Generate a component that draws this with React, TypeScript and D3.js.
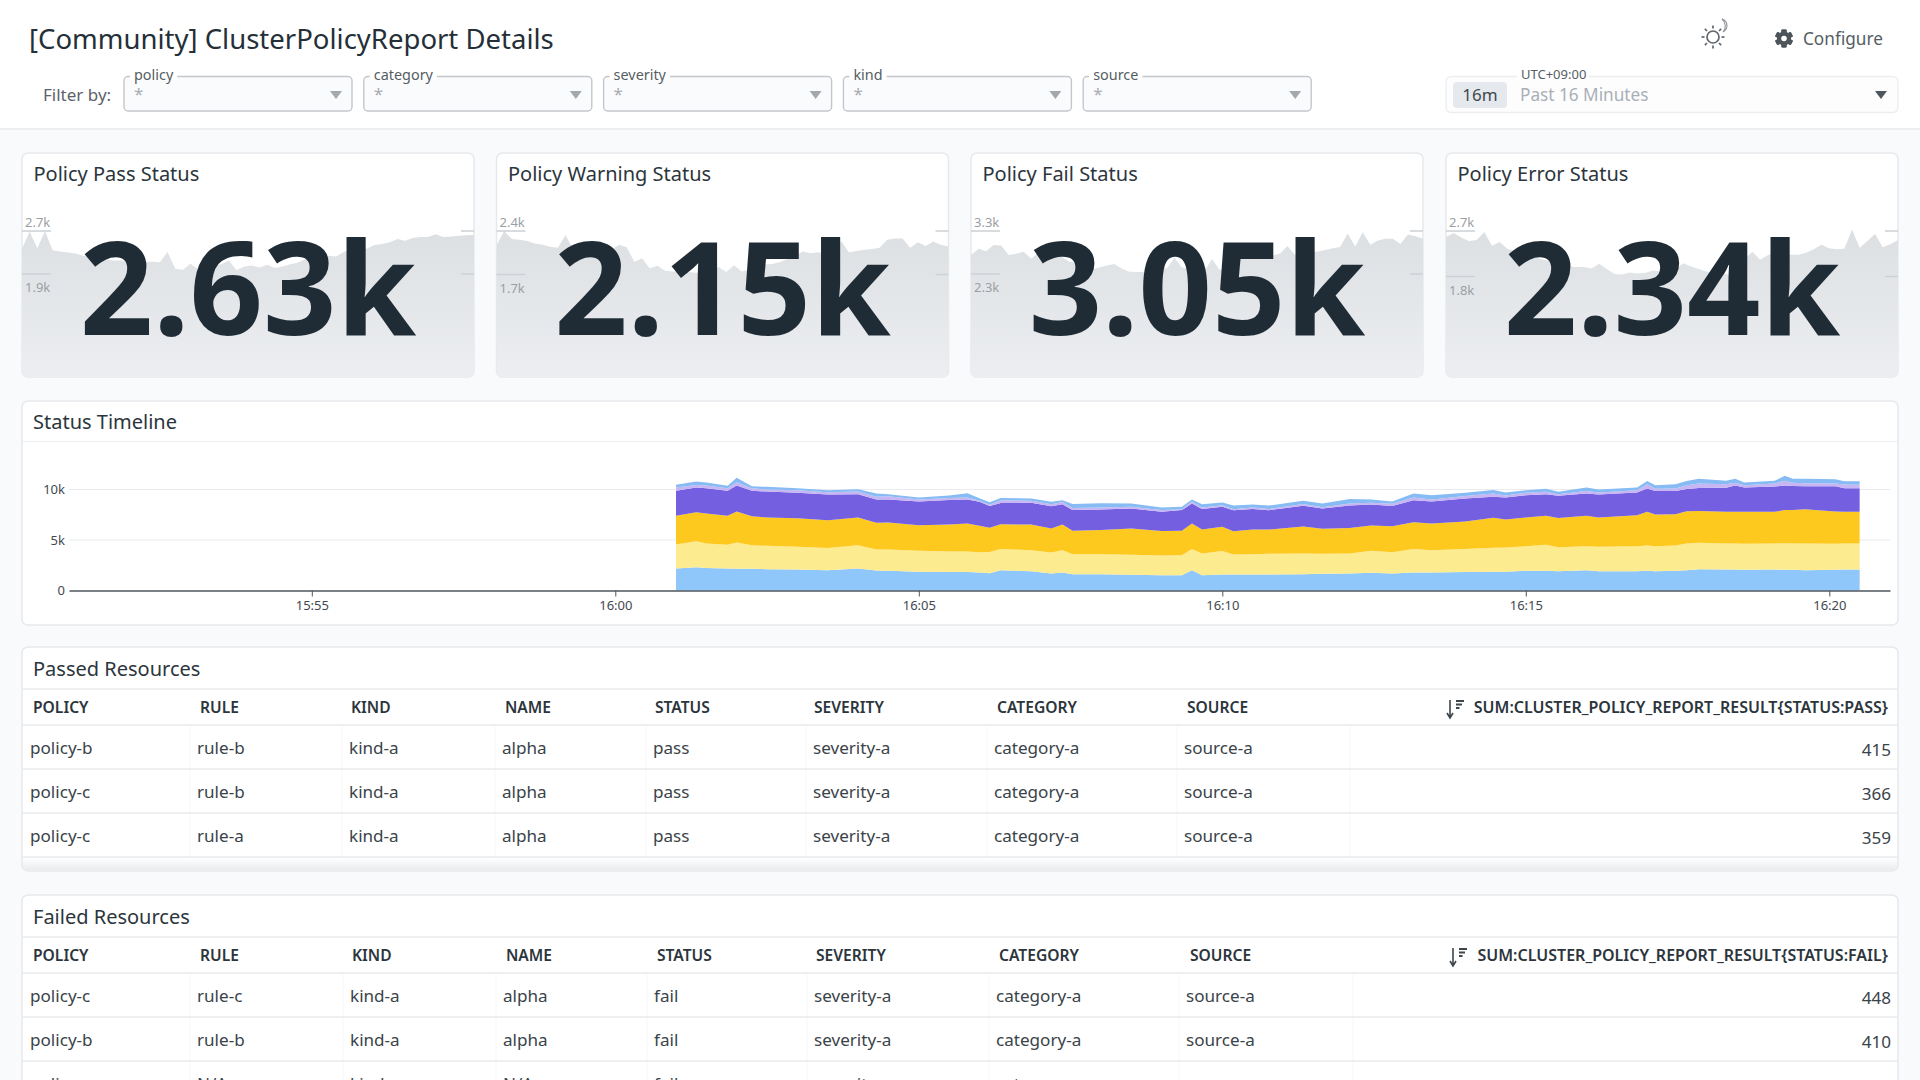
import React, { useRef, useEffect } from "react";
import * as d3 from "d3";

const FONT = '"Noto Sans", sans-serif';

// filter bar
const filterNames = ["policy", "category", "severity", "kind", "source"];

// stat cards
const cardTitles = ["Policy Pass Status", "Policy Warning Status", "Policy Fail Status", "Policy Error Status"];
const cardValues = ["2.63k", "2.15k", "3.05k", "2.34k"];
const cardHighLabels = ["2.7k", "2.4k", "3.3k", "2.7k"];
const cardLowLabels = ["1.9k", "1.7k", "2.3k", "1.8k"];
const cardHighValues = [2700, 2400, 3300, 2700];
const cardLowValues = [1900, 1700, 2300, 1800];

const passSpark = [
  2370, 2690, 2380, 2700, 2340, 2320, 2300, 2280, 2240, 2210, 2190, 2170, 2150, 2150, 2140, 2140, 2130, 2130, 2120,
  2310, 2000, 1980, 2090, 1990, 2040, 2060, 2080, 2150, 1970, 2040, 2060, 2020, 2070, 2010, 2040, 2080, 2110, 2180,
  2210, 2220, 2240, 2225, 2310, 2360, 2420, 2370, 2440, 2460, 2490, 2550, 2520, 2570, 2590, 2590, 2640, 2590, 2600,
  2610, 2620, 2625,
];
const warnSpark = [
  2170, 2400, 2270, 2260, 2240, 2200, 2180, 2146, 2130, 2330, 2120, 2100, 2090, 2080, 2090, 2100, 2180, 2140, 1900,
  1960, 1800, 1840, 1760, 1750, 1750, 1740, 1730, 1740, 1730, 1820, 1740, 1850, 1750, 1780, 1800, 1860, 1870, 1900,
  1950, 2000, 2070, 2040, 2060, 2030, 2000, 2240, 2060, 2080, 2100, 2110, 2130, 2260, 2280, 2280, 2130, 2220, 2160,
  2230, 2180, 2150,
];
const failSpark = [
  2740, 2890, 2830, 2975, 2960, 2740, 2770, 2815, 2660, 2800, 2820, 2760, 2700, 2590, 2560, 2450, 2400, 2450, 2500,
  2530, 2430, 2350, 2345, 2345, 2540, 2480, 2430, 2680, 2450, 2430, 2470, 2370, 2650, 2400, 2430, 2660, 2690, 2700,
  2700, 2720, 2730, 2770, 2950, 2750, 2780, 2810, 2820, 2860, 2900, 2930, 3240, 2940, 3270, 2980, 3080, 3120, 3120,
  3000, 3220, 3180, 3120,
];
const errorSpark = [
  2580, 2660, 2570, 2500, 2520, 2680, 2410, 2480, 2350, 2300, 2240, 2200, 2160, 2120, 2080, 2040, 2000, 1990, 1990,
  1960, 2050, 1950, 1850, 1840, 1880, 1860, 1870, 1920, 1900, 1870, 1960, 2060, 2000, 1950, 1900, 1880, 1860, 1840,
  2050, 2150, 2290, 2130, 2220, 2300, 2280, 2230, 2230, 2270, 2340, 2430, 2360, 2340, 2350, 2730, 2370, 2500, 2640,
  2380, 2440, 2520,
];
const sparkSeries = [passSpark, warnSpark, failSpark, errorSpark];

// status timeline: minutes after 16:00 and one array per stacked band, bottom to top
const sampleMinutes = [
  1, 1.34, 1.5, 1.85, 2, 2.25, 2.5, 3, 3.5, 4, 4.3, 4.5, 5, 5.5, 5.8, 6, 6.17, 6.35, 6.85, 7.19, 7.36, 7.53, 8, 8.5, 9,
  9.34, 9.5, 9.67, 10, 10.18, 10.5, 10.77, 11.34, 11.65, 12.1, 12.45, 12.8, 13.15, 13.45, 14, 14.47, 14.67, 15, 15.34,
  15.54, 16, 16.2, 16.83, 17, 17.13, 17.47, 17.65, 17.85, 18.3, 18.45, 18.6, 19.1, 19.27, 19.4, 19.6, 20.1, 20.25, 20.5,
];
const warnBand = [
  2180, 2310, 2240, 2180, 2150, 2150, 2110, 2080, 2010, 2180, 1980, 1950, 1850, 1820, 1820, 1780, 1720, 2010, 1910,
  1680, 1780, 1620, 1620, 1550, 1520, 1520, 2010, 1520, 1580, 1580, 1580, 1580, 1620, 1650, 1680, 1750, 1680, 1780,
  1780, 1820, 1850, 1850, 1950, 1950, 1910, 2010, 1910, 1910, 1950, 1910, 1950, 2010, 2110, 2080, 2080, 2050, 2080,
  2050, 2050, 2010, 2050, 2080, 2080,
];
const passBand = [
  2380, 2570, 2410, 2340, 2610, 2340, 2310, 2240, 2210, 2310, 2080, 2110, 2080, 2050, 2050, 2010, 2080, 2110, 2080,
  2080, 2210, 1980, 1980, 1980, 1950, 1980, 2110, 2150, 2340, 1980, 2010, 2050, 2050, 1980, 1980, 2180, 2110, 2340,
  2210, 2280, 2380, 2410, 2440, 2570, 2380, 2380, 2410, 2480, 2510, 2480, 2510, 2640, 2610, 2570, 2570, 2570, 2570,
  2640, 2610, 2640, 2570, 2570, 2570,
];
const failBand = [
  2840, 2870, 2970, 2870, 3070, 2870, 2810, 2840, 2740, 2740, 2640, 2670, 2540, 2670, 2770, 2610, 2410, 2440, 2540,
  2380, 2540, 2310, 2380, 2610, 2410, 2410, 2510, 2380, 2380, 2310, 2440, 2410, 2670, 2480, 2540, 2510, 2570, 2640,
  2640, 2740, 2970, 2770, 2840, 2870, 2900, 3000, 2900, 3070, 3330, 3140, 3100, 3200, 3140, 3140, 3140, 3170, 3140,
  3270, 3300, 3400, 3200, 3140, 3140,
];
const errorBand = [
  2480, 2440, 2510, 2480, 2570, 2510, 2570, 2510, 2540, 2310, 2310, 2280, 2340, 2410, 2380, 2380, 2150, 2110, 2150,
  2210, 2010, 2050, 2050, 1980, 1910, 2050, 1980, 2010, 1980, 2080, 2050, 1910, 2050, 2010, 2210, 2080, 2010, 2180,
  2180, 2280, 2080, 2180, 2210, 2150, 2180, 2210, 2280, 2240, 2310, 2310, 2280, 2210, 2280, 2380, 2610, 2410, 2510,
  2440, 2380, 2280, 2510, 2340, 2340,
];
const skipBand = [
  330, 260, 260, 260, 330, 260, 200, 260, 230, 260, 260, 330, 200, 200, 200, 100, 130, 260, 200, 200, 230, 200, 200,
  170, 170, 70, 200, 170, 170, 100, 130, 130, 170, 130, 200, 170, 230, 260, 200, 230, 330, 200, 230, 230, 170, 260,
  200, 230, 430, 230, 260, 360, 460, 360, 260, 230, 300, 460, 330, 300, 260, 360, 330,
];
const unknownBand = [
  260, 330, 300, 230, 430, 200, 260, 200, 200, 230, 330, 200, 200, 260, 400, 260, 260, 230, 230, 230, 170, 400, 400,
  330, 260, 260, 200, 300, 260, 360, 300, 330, 330, 360, 460, 330, 200, 400, 430, 330, 330, 300, 260, 300, 230, 330,
  300, 260, 300, 360, 430, 430, 460, 330, 400, 260, 260, 500, 400, 430, 430, 330, 360,
];
const bandKeys = ["warn", "pass", "fail", "error", "skip", "unknown"];
const bandValues: Record<string, number[]> = {
  warn: warnBand,
  pass: passBand,
  fail: failBand,
  error: errorBand,
  skip: skipBand,
  unknown: unknownBand,
};
const bandColors = ["#90c7fb", "#fdeb90", "#fec91f", "#735fe0", "#c8b6f4", "#86bbf3"];
const yTicks = [0, 5000, 10000];

// tables
const tableColumns = ["POLICY", "RULE", "KIND", "NAME", "STATUS", "SEVERITY", "CATEGORY", "SOURCE"];
const passedMetric = "SUM:CLUSTER_POLICY_REPORT_RESULT{STATUS:PASS}";
const failedMetric = "SUM:CLUSTER_POLICY_REPORT_RESULT{STATUS:FAIL}";
const passedRows = [
  ["policy-b", "rule-b", "kind-a", "alpha", "pass", "severity-a", "category-a", "source-a", "415"],
  ["policy-c", "rule-b", "kind-a", "alpha", "pass", "severity-a", "category-a", "source-a", "366"],
  ["policy-c", "rule-a", "kind-a", "alpha", "pass", "severity-a", "category-a", "source-a", "359"],
];
const failedRows = [
  ["policy-c", "rule-c", "kind-a", "alpha", "fail", "severity-a", "category-a", "source-a", "448"],
  ["policy-b", "rule-b", "kind-a", "alpha", "fail", "severity-a", "category-a", "source-a", "410"],
  ["policy-a", "N/A", "kind-a", "N/A", "fail", "severity-a", "category-a", "source-a", "365"],
];

type Sel = d3.Selection<any, any, any, any>;

const label = (g: Sel, x: number, y: number, t: string, size: number, fill: string, anchor = "start", weight = 400) =>
  g
    .append("text")
    .attr("x", x)
    .attr("y", y)
    .attr("text-anchor", anchor)
    .attr("font-family", FONT)
    .attr("font-size", size)
    .attr("font-weight", weight)
    .attr("fill", fill)
    .text(t);

const panel = (g: Sel, x0: number, y0: number, x1: number, y1: number) =>
  g
    .append("rect")
    .attr("x", x0)
    .attr("y", y0)
    .attr("width", x1 - x0)
    .attr("height", y1 - y0)
    .attr("rx", 6)
    .attr("fill", "#fff")
    .attr("stroke", "#e6e9ec")
    .attr("stroke-width", 1.5);

const caret = (g: Sel, cx: number, cy: number, fill: string) =>
  g.append("path").attr("d", `M${cx - 6},${cy - 3.5}h12l-6,8z`).attr("fill", fill);

function drawHeader(svg: Sel) {
  svg.append("rect").attr("width", 1920).attr("height", 128).attr("fill", "#fff");
  svg.append("rect").attr("y", 128).attr("width", 1920).attr("height", 2).attr("fill", "#eceef1");
  label(svg, 29, 49, "[Community] ClusterPolicyReport Details", 27.5, "#252f38");
  label(svg, 43, 101, "Filter by:", 17, "#5b6369");

  filterNames.forEach((name, i) => {
    const x0 = 124 + i * 239.8;
    const g = svg.append("g");
    g.append("rect")
      .attr("x", x0)
      .attr("y", 76.5)
      .attr("width", 228)
      .attr("height", 34.5)
      .attr("rx", 4)
      .attr("fill", "#fafbfc")
      .attr("stroke", "#c3c7cb")
      .attr("stroke-width", 1.4);
    const t = label(g, x0 + 10, 79.5, name, 14.4, "#555d63");
    const w = (t.node() as SVGTextElement).getComputedTextLength();
    g.insert("rect", "text").attr("x", x0 + 6).attr("y", 73).attr("width", w + 8).attr("height", 7).attr("fill", "#fff");
    label(g, x0 + 10, 100, "*", 17, "#a8adb2");
    caret(g, x0 + 212, 94.5, "#a3a8ad");
  });

  // time picker
  svg.append("rect").attr("x", 1446).attr("y", 76.5).attr("width", 452).attr("height", 36).attr("rx", 5)
    .attr("fill", "#fdfdfe").attr("stroke", "#eceef0").attr("stroke-width", 1.4);
  svg.append("rect").attr("x", 1453).attr("y", 82).attr("width", 54).attr("height", 26).attr("rx", 4).attr("fill", "#e5e8ed");
  label(svg, 1480, 101, "16m", 17, "#3f484f", "middle");
  label(svg, 1520, 101, "Past 16 Minutes", 17.2, "#a9afb6");
  svg.append("rect").attr("x", 1517).attr("y", 72).attr("width", 72).attr("height", 8).attr("fill", "#fff");
  label(svg, 1521, 79, "UTC+09:00", 13, "#555d63");
  caret(svg, 1881, 94.5, "#4f565c");

  // theme toggle
  const sun = svg.append("g").attr("transform", "translate(1713,37)").attr("stroke", "#5f666c").attr("fill", "none").attr("stroke-width", 1.7);
  sun.append("circle").attr("r", 6);
  d3.range(8).forEach((i) => {
    const a = (i * Math.PI) / 4;
    sun.append("line")
      .attr("x1", Math.cos(a) * 8.5)
      .attr("y1", Math.sin(a) * 8.5)
      .attr("x2", Math.cos(a) * 11.5)
      .attr("y2", Math.sin(a) * 11.5);
  });
  sun.append("path").attr("d", "M9,-18a7,7 0 0 1 1,13a9,9 0 0 0 -1,-13").attr("stroke-width", 1.1).attr("stroke", "#8b9197");

  // gear
  const gear = svg.append("g").attr("transform", "translate(1784,38.5)").attr("fill", "#4d555b");
  d3.range(6).forEach((i) => {
    gear.append("rect").attr("x", -2.6).attr("y", -9).attr("width", 5.2).attr("height", 18).attr("rx", 1).attr("transform", `rotate(${i * 60})`);
  });
  gear.append("circle").attr("r", 7);
  gear.append("circle").attr("r", 2.8).attr("fill", "#fff");
  label(svg, 1803, 44.5, "Configure", 17.2, "#555d63");
}

function drawCards(svg: Sel, defs: Sel) {
  const grad = defs.append("linearGradient").attr("id", "sparkFill").attr("gradientUnits", "userSpaceOnUse")
    .attr("x1", 0).attr("x2", 0).attr("y1", 225).attr("y2", 377);
  grad.append("stop").attr("offset", 0).attr("stop-color", "#dcdfe2");
  grad.append("stop").attr("offset", 1).attr("stop-color", "#eceef1");

  cardTitles.forEach((title, i) => {
    const x0 = [22, 496.5, 971, 1446][i];
    const x1 = x0 + 452;
    const g = svg.append("g");
    panel(g, x0, 153, x1, 377);
    defs.append("clipPath").attr("id", `card${i}`).append("rect")
      .attr("x", x0).attr("y", 153).attr("width", 452).attr("height", 224).attr("rx", 6);

    const series = sparkSeries[i];
    const highY = 231;
    const lowY = i === 3 ? 276.5 : i === 1 ? 274.5 : 274;
    const x = d3.scaleLinear().domain([0, series.length - 1]).range([x0, x1]);
    const y = d3.scaleLinear().domain([cardLowValues[i], cardHighValues[i]]).range([lowY, highY]);
    const area = d3.area<number>().x((_, k) => x(k)).y0(377).y1((d) => y(d));
    g.append("path").datum(series).attr("clip-path", `url(#card${i})`).attr("d", area)
      .attr("fill", "url(#sparkFill)").attr("stroke", "none");

    // min / max markers sit only at the card edges
    [highY, lowY].forEach((ly) => {
      g.append("line").attr("x1", x0).attr("x2", x0 + 29).attr("y1", ly).attr("y2", ly).attr("stroke", "#cdd0d4").attr("stroke-width", 1.5);
      g.append("line").attr("x1", x1 - 13).attr("x2", x1).attr("y1", ly).attr("y2", ly).attr("stroke", "#cdd0d4").attr("stroke-width", 1.5);
    });
    label(g, x0 + 3, 227, cardHighLabels[i], 13, "#9a9fa4");
    label(g, x0 + 3, lowY + 18, cardLowLabels[i], 13, "#9a9fa4");
    label(g, x0 + 11.5, 181, title, 20, "#2c353c");
    label(g, x0 + 226, 335, cardValues[i], 128.5, "#1f2c36", "middle", 700);
  });
}

function drawTimeline(svg: Sel) {
  const g = svg.append("g");
  panel(g, 22, 401, 1898, 625);
  label(g, 33, 429, "Status Timeline", 20, "#2c353c");
  g.append("line").attr("x1", 23).attr("x2", 1897).attr("y1", 441.5).attr("y2", 441.5).attr("stroke", "#eceef0");

  const at = (m: number) => new Date(2024, 0, 1, 16, 0, Math.round(m * 60));
  const x = d3.scaleTime().domain([new Date(2024, 0, 1, 15, 51), new Date(2024, 0, 1, 16, 21)]).range([69, 1890]);
  const y = d3.scaleLinear().domain([0, 10000]).range([590.5, 489.5]);

  const yAxis = g.append("g").attr("transform", "translate(69,0)").call(
    d3.axisLeft(y).tickValues(yTicks).tickSize(0).tickPadding(4).tickFormat((d) => (+d === 0 ? "0" : `${+d / 1000}k`))
  );
  yAxis.select(".domain").remove();
  yAxis.selectAll("text").attr("font-family", FONT).attr("font-size", 13).attr("fill", "#3f484f");
  yTicks.slice(1).forEach((t) => {
    g.append("line").attr("x1", 69).attr("x2", 1890).attr("y1", y(t)).attr("y2", y(t)).attr("stroke", "#e9ebee").attr("stroke-width", 1.2);
  });

  const rows = sampleMinutes.map((m, i) => {
    const row: any = { t: at(m) };
    bandKeys.forEach((k) => (row[k] = bandValues[k][i]));
    return row;
  });
  const stacked = d3.stack<any>().keys(bandKeys)(rows);
  const area = d3.area<any>().x((d) => x(d.data.t)).y0((d) => y(d[0])).y1((d) => y(d[1]));
  g.append("g").selectAll("path").data(stacked).join("path")
    .attr("d", (d) => area(d as any))
    .attr("fill", (_, i) => bandColors[i]);

  const xAxis = g.append("g").attr("transform", "translate(0,590.5)").call(
    d3.axisBottom(x).ticks(d3.timeMinute.every(5) as any).tickSize(6).tickPadding(4).tickSizeOuter(0).tickFormat(d3.timeFormat("%H:%M") as any)
  );
  xAxis.select(".domain").attr("stroke", "#4d565e").attr("stroke-width", 1.3);
  xAxis.selectAll("line").attr("stroke", "#4d565e");
  xAxis.selectAll("text").attr("font-family", FONT).attr("font-size", 13).attr("fill", "#3f484f");
}

function drawTable(
  svg: Sel,
  title: string,
  metric: string,
  rows: string[][],
  top: number,
  bottom: number,
  headerX: number[],
  cellX: number[],
  metricX: number
) {
  const g = svg.append("g");
  panel(g, 22, top, 1898, bottom);
  label(g, 33, top + 29, title, 20, "#2c353c");
  const divider = (y: number) =>
    g.append("line").attr("x1", 23).attr("x2", 1897).attr("y1", y).attr("y2", y).attr("stroke", "#e8eaed").attr("stroke-width", 1.4);
  divider(top + 42);
  divider(top + 78);
  const headY = top + 66;
  tableColumns.forEach((c, i) => label(g, headerX[i], headY, c, 15.6, "#2c353c", "start", 600));
  label(g, 1888, headY, metric, 16, "#2c353c", "end", 600);

  // sort icon
  const icon = g.append("g").attr("transform", `translate(${metricX},${headY - 13})`).attr("stroke", "#3d464d").attr("fill", "none");
  icon.append("path").attr("d", "M3,0V17M0,13L3,18L6,13").attr("stroke-width", 1.6);
  icon.append("path").attr("d", "M9,1h8M9,4.5h6M9,8h3.5").attr("stroke-width", 1.9);

  // faint column separators
  cellX.slice(1).concat([metricX - 90]).forEach((cx) => {
    g.append("line").attr("x1", cx - 7).attr("x2", cx - 7).attr("y1", top + 79).attr("y2", Math.min(bottom, top + 210)).attr("stroke", "#f6f7f8");
  });

  rows.forEach((row, r) => {
    const cy = top + 101 + r * 44;
    if (r < 3) divider(top + 122 + r * 44);
    row.slice(0, 8).forEach((v, c) => label(g, cellX[c], cy + 6, v, 17.1, "#3a4349"));
    label(g, 1891, cy + 8, row[8], 17.1, "#3a4349", "end");
  });
}

const App: React.FC = () => {
  const svgRef = useRef<SVGSVGElement | null>(null);

  useEffect(() => {
    const svg: Sel = d3.select(svgRef.current);
    svg.selectAll("*").remove();
    const defs = svg.append("defs");
    svg.append("rect").attr("width", 1920).attr("height", 1080).attr("fill", "#f8fafc");
    drawHeader(svg);
    drawCards(svg, defs);
    drawTimeline(svg);
    drawTable(
      svg,
      "Passed Resources",
      passedMetric,
      passedRows,
      647,
      871,
      [33, 200, 351, 505, 655, 814, 997, 1187],
      [30, 197, 349, 502, 653, 813, 994, 1184],
      1447
    );
    // scroll shadow under the last row of the first table
    const shade = defs.append("linearGradient").attr("id", "scrollShade").attr("x1", 0).attr("x2", 0).attr("y1", 0).attr("y2", 1);
    shade.append("stop").attr("offset", 0).attr("stop-color", "#ffffff");
    shade.append("stop").attr("offset", 1).attr("stop-color", "#e9ebed");
    svg.append("rect").attr("x", 23).attr("y", 858).attr("width", 1874).attr("height", 12).attr("fill", "url(#scrollShade)");
    drawTable(
      svg,
      "Failed Resources",
      failedMetric,
      failedRows,
      895,
      1100,
      [33, 200, 352, 506, 657, 816, 999, 1190],
      [30, 197, 350, 503, 654, 814, 996, 1186],
      1450
    );
  }, []);

  return (
    <svg
      ref={svgRef}
      width={1920}
      height={1080}
      style={{ position: "fixed", left: 0, top: 0, display: "block" }}
    ></svg>
  );
};

export default App;
